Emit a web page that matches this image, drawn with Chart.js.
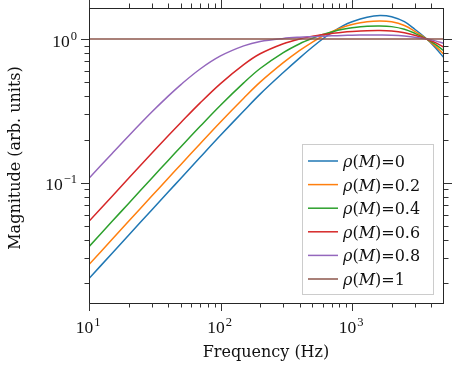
<!DOCTYPE html>
<html>
<head>
<meta charset="utf-8">
<script src="https://cdn.jsdelivr.net/npm/chart.js@4"></script>
<style>
  html, body { margin: 0; padding: 0; background: #fff; }
</style>
</head>
<body>
<canvas id="chart1" width="453" height="370"></canvas>
<script>
// frequency grid (Hz) and magnitude, one array per rho(M)
const freqHz = [10, 15, 20, 30, 40, 50, 70, 100, 150, 200, 300, 400, 500, 600, 700, 850, 1000, 1300, 1630, 2000, 2500, 3000, 3700, 4300, 5000];

const magRho0  = [0.0216, 0.0324, 0.0432, 0.0648, 0.0863, 0.1077, 0.1505, 0.214, 0.316, 0.414, 0.585, 0.74, 0.88, 1.005, 1.11, 1.235, 1.32, 1.42, 1.46, 1.43, 1.32, 1.17, 1.0, 0.87, 0.74];
const magRho02 = [0.0270, 0.0405, 0.0540, 0.0809, 0.1077, 0.1343, 0.1873, 0.2652, 0.3876, 0.5012, 0.6848, 0.8339, 0.9534, 1.0503, 1.1253, 1.2091, 1.2611, 1.3187, 1.336, 1.317, 1.241, 1.132, 1.0, 0.893, 0.781];
const magRho04 = [0.0360, 0.0540, 0.0719, 0.1077, 0.1431, 0.1782, 0.2472, 0.3465, 0.4955, 0.6238, 0.8044, 0.928, 1.0125, 1.0747, 1.1198, 1.1683, 1.1963, 1.2263, 1.233, 1.220, 1.170, 1.096, 1.0, 0.918, 0.826];
const magRho06 = [0.0540, 0.0808, 0.1076, 0.1606, 0.2125, 0.2629, 0.3597, 0.490, 0.6637, 0.7898, 0.928, 1.002, 1.0441, 1.0735, 1.0942, 1.117, 1.1294, 1.1427, 1.146, 1.137, 1.107, 1.062, 1.0, 0.944, 0.877];
const magRho08 = [0.1075, 0.1602, 0.2119, 0.3105, 0.401, 0.4825, 0.619, 0.7627, 0.8959, 0.9623, 1.0105, 1.0302, 1.0395, 1.0469, 1.0525, 1.0596, 1.0633, 1.0675, 1.067, 1.064, 1.051, 1.030, 1.0, 0.971, 0.934];
const magRho1  = [1, 1, 1, 1, 1, 1, 1, 1, 1, 1, 1, 1, 1, 1, 1, 1, 1, 1, 1, 1, 1, 1, 1, 1, 1];

const rhoLabels = ['ρ(M)=0', 'ρ(M)=0.2', 'ρ(M)=0.4', 'ρ(M)=0.6', 'ρ(M)=0.8', 'ρ(M)=1'];
const lineColors = ['#1f77b4', '#ff7f0e', '#2ca02c', '#d62728', '#9467bd', '#8c564b'];

const xMajorTicks = [10, 100, 1000];
const yMajorTicks = [0.1, 1];
const xTitle = 'Frequency (Hz)';
const yTitle = 'Magnitude (arb. units)';

const numFont = '"Liberation Serif", serif';
const textFont = '"DejaVu Serif", serif';

function minorTicks(min, max) {
  const out = [];
  for (let d = Math.pow(10, Math.floor(Math.log10(min))); d < max; d *= 10) {
    for (let k = 2; k <= 9; k++) {
      const v = d * k;
      if (v > min && v < max) out.push(v);
    }
  }
  return out;
}

// "10" with a raised exponent, like matplotlib's log tick labels
function drawPow(ctx, value, x, y, align) {
  const exp = Math.round(Math.log10(value));
  const expStr = exp < 0 ? '\u2212' + (-exp) : String(exp);
  ctx.font = '17.5px ' + numFont;
  const wb = ctx.measureText('10').width;
  ctx.font = '12.5px ' + numFont;
  const we = ctx.measureText(expStr).width;
  const total = wb + 1 + we;
  let x0 = align === 'center' ? x - total / 2 : x - total;
  ctx.textAlign = 'left';
  ctx.textBaseline = 'alphabetic';
  ctx.font = '17.5px ' + numFont;
  ctx.fillText('10', x0, y);
  ctx.font = '12.5px ' + numFont;
  ctx.fillText(expStr, x0 + wb + 1, y - 7);
}

// legend text: Greek and Latin letters in italic, the rest upright
function drawMath(ctx, text, x, y, size) {
  let cx = x;
  ctx.textAlign = 'left';
  ctx.textBaseline = 'alphabetic';
  for (const ch of text) {
    const ital = /[A-Za-zρ]/.test(ch);
    ctx.font = (ital ? 'italic ' : '') + size + 'px ' + textFont;
    ctx.fillText(ch, cx, y);
    cx += ctx.measureText(ch).width;
  }
}

const framePlugin = {
  id: 'framePlugin',
  afterDraw(chart) {
    const { ctx, chartArea: a, scales: { x, y } } = chart;
    ctx.save();
    ctx.fillStyle = '#000';

    // frame
    ctx.strokeStyle = '#262626';
    ctx.lineWidth = 1;
    ctx.strokeRect(a.left + 0.5, a.top + 0.5, a.right - a.left - 1, a.bottom - a.top);

    // ticks on all four sides
    ctx.strokeStyle = '#333';
    ctx.beginPath();
    const xTicks = xMajorTicks.map(v => [v, 8]).concat(minorTicks(x.min, x.max).map(v => [v, 4.5]));
    xTicks.forEach(([v, len]) => {
      const px = Math.round(x.getPixelForValue(v)) + 0.5;
      ctx.moveTo(px, a.bottom); ctx.lineTo(px, a.bottom + len);
      ctx.moveTo(px, a.top); ctx.lineTo(px, a.top - len);
    });
    const yTicks = yMajorTicks.map(v => [v, 8]).concat(minorTicks(y.min, y.max).map(v => [v, 4.5]));
    yTicks.forEach(([v, len]) => {
      const py = Math.round(y.getPixelForValue(v)) + 0.5;
      ctx.moveTo(a.left, py); ctx.lineTo(a.left - len, py);
      ctx.moveTo(a.right, py); ctx.lineTo(a.right + len, py);
    });
    ctx.stroke();

    // tick labels
    ctx.fillStyle = '#111';
    xMajorTicks.forEach(v => drawPow(ctx, v, x.getPixelForValue(v) - 1, a.bottom + 30, 'center'));
    yMajorTicks.forEach(v => drawPow(ctx, v, a.left - 12, y.getPixelForValue(v) + 7.5, 'right'));

    // axis titles
    ctx.font = '16px ' + textFont;
    ctx.textAlign = 'center';
    ctx.textBaseline = 'alphabetic';
    ctx.fillText(xTitle, 266, 357);
    ctx.save();
    ctx.translate(20, 158);
    ctx.rotate(-Math.PI / 2);
    ctx.fillText(yTitle, 0, 0);
    ctx.restore();

    // legend
    const lx = 302.5, ly = 144.5, lw = 131, lh = 150;
    ctx.fillStyle = 'rgba(255,255,255,0.8)';
    ctx.fillRect(lx, ly, lw, lh);
    ctx.strokeStyle = '#cccccc';
    ctx.strokeRect(lx, ly, lw, lh);
    chart.data.datasets.forEach((ds, i) => {
      const ry = 161 + i * 23.6;
      ctx.strokeStyle = ds.borderColor;
      ctx.lineWidth = 1.5;
      ctx.beginPath();
      ctx.moveTo(308, ry); ctx.lineTo(338, ry);
      ctx.stroke();
      ctx.fillStyle = '#111';
      drawMath(ctx, ds.label, 343, ry + 6, 16);
    });
    ctx.restore();
  }
};

const series = [magRho0, magRho02, magRho04, magRho06, magRho08, magRho1];

new Chart(document.getElementById('chart1').getContext('2d'), {
  type: 'line',
  data: {
    datasets: series.map((vals, i) => ({
      label: rhoLabels[i],
      data: freqHz.map((f, j) => ({ x: f, y: vals[j] })),
      borderColor: lineColors[i],
      borderWidth: 1.5,
      pointRadius: 0,
      fill: false,
      tension: 0.35,
      order: series.length - i
    }))
  },
  options: {
    responsive: false,
    animation: false,
    events: [],
    layout: { padding: { left: 89, top: 8, right: 9, bottom: 67 } },
    plugins: { legend: { display: false }, tooltip: { enabled: false } },
    scales: {
      x: { type: 'logarithmic', min: 10, max: 5000, display: false },
      y: { type: 'logarithmic', min: 0.0146, max: 1.644, display: false }
    }
  },
  plugins: [framePlugin]
});
</script>
</body>
</html>
